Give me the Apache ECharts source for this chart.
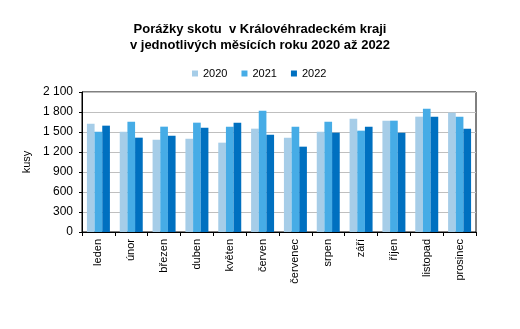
<!DOCTYPE html>
<html>
<head>
<meta charset="utf-8">
<script src="https://cdn.jsdelivr.net/npm/echarts@6/dist/echarts.min.js"></script>
<style>
  html, body { margin: 0; padding: 0; background: #fff; }
  #chart { width: 520px; height: 329px; }
</style>
</head>
<body>
<div id="chart"></div>
<script>
// Měsíce
const months = ['leden', 'únor', 'březen', 'duben', 'květen', 'červen',
  'červenec', 'srpen', 'září', 'říjen', 'listopad', 'prosinec'];

// Porážky skotu (kusy) po měsících
const y2020 = [1625, 1505, 1385, 1400, 1340, 1550, 1415, 1505, 1700, 1670, 1730, 1790];
const y2021 = [1505, 1655, 1580, 1640, 1580, 1820, 1580, 1655, 1520, 1670, 1850, 1730];
const y2022 = [1595, 1415, 1445, 1565, 1640, 1460, 1280, 1490, 1580, 1490, 1730, 1550];

const seriesNames = ['2020', '2021', '2022'];
const seriesColors = ['#A6CDE8', '#46ACE6', '#0070C0'];

// Osa y: 0 až 2 100 po 300
const yMin = 0, yMax = 2100, yStep = 300;

const font = 'Arial, "Liberation Sans", sans-serif';
const chart = echarts.init(document.getElementById('chart'), null, { renderer: 'canvas' });

const dataSets = [y2020, y2021, y2022];

chart.setOption({
  animation: false,
  backgroundColor: '#fff',
  title: {
    text: 'Porážky skotu  v Královéhradeckém kraji\nv jednotlivých měsících roku 2020 až 2022',
    left: 'center',
    top: 16,
    textStyle: { fontFamily: font, fontSize: 13, fontWeight: 'bold', color: '#000', lineHeight: 16 }
  },
  legend: {
    data: seriesNames,
    left: 187,
    top: 63,
    itemWidth: 6,
    itemHeight: 6,
    itemGap: 14,
    icon: 'rect',
    textStyle: { fontFamily: font, fontSize: 11, color: '#000' }
  },
  grid: { left: 82, right: 44, top: 92, bottom: 97, containLabel: false, show: true, borderColor: '#000', borderWidth: 1 },
  xAxis: {
    type: 'category',
    data: months,
    axisLine: { lineStyle: { color: '#000', width: 1 } },
    axisTick: { show: true, length: 4, lineStyle: { color: '#000' }, alignWithLabel: false },
    axisLabel: { rotate: 90, interval: 0, margin: 7, fontFamily: font, fontSize: 11, color: '#000' }
  },
  yAxis: {
    type: 'value',
    min: yMin,
    max: yMax,
    interval: yStep,
    name: 'kusy',
    nameLocation: 'middle',
    nameGap: 43,
    nameTextStyle: { fontFamily: font, fontSize: 11, color: '#000' },
    axisLine: { show: true, lineStyle: { color: '#000', width: 1 } },
    axisTick: { show: true, length: 3, lineStyle: { color: '#000' } },
    splitLine: { lineStyle: { color: '#BFBFBF', width: 1 } },
    axisLabel: {
      margin: 9,
      fontFamily: font, fontSize: 12, color: '#000',
      formatter: v => String(v).replace(/\B(?=(\d{3})+(?!\d))/g, '\u00a0')
    }
  },
  series: seriesNames.map((name, i) => ({
    name,
    type: 'bar',
    data: dataSets[i],
    itemStyle: { color: seriesColors[i] },
    barGap: '0%',
    barCategoryGap: '30%'
  }))
});
</script>
</body>
</html>
